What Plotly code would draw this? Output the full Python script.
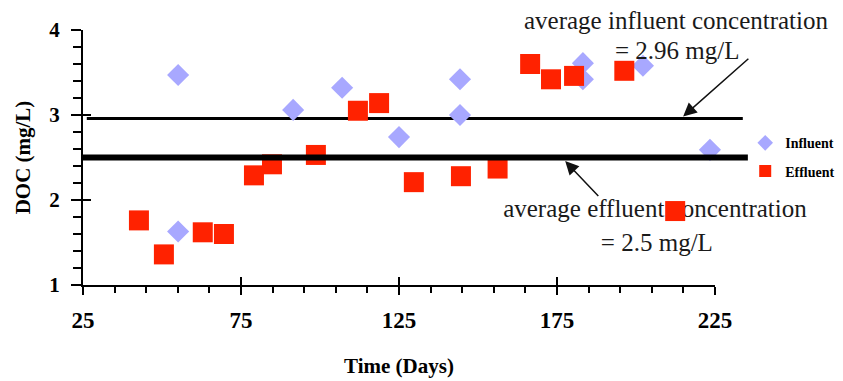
import plotly.graph_objects as go

# Dissolved organic carbon over time: influent vs effluent samples
influent_days = [55.1, 55.1, 91.5, 107.0, 125.0, 144.3, 144.3, 183.2, 183.2, 202.2, 223.4]
influent_doc = [3.47, 1.63, 3.06, 3.32, 2.74, 3.42, 3.00, 3.61, 3.42, 3.58, 2.59]

effluent_days = [42.7, 50.6, 62.9, 69.6, 79.1, 84.8, 98.7, 112.0, 118.7, 129.7,
                 144.6, 156.2, 166.5, 173.1, 180.4, 196.3, 212.4]
effluent_doc = [1.76, 1.36, 1.62, 1.60, 2.29, 2.42, 2.53, 3.05, 3.14, 2.21,
                2.28, 2.37, 3.60, 3.42, 3.46, 3.52, 1.87]

avg_influent = 2.96
avg_effluent = 2.5

x_ticks = [25, 75, 125, 175, 225]
y_ticks = [1, 2, 3, 4]

SERIF = "Liberation Serif, Times New Roman, serif"
label_font = dict(family=SERIF, size=25, color="#1a1a1a")

fig = go.Figure()

# Effluent callout text (drawn first so the data markers sit on top of it)
fig.add_trace(go.Scatter(
    x=[206.0, 206.6],
    y=[1.87, 1.47],
    mode="text",
    text=["average effluent concentration", f"= {avg_effluent:g} mg/L"],
    textposition="middle center",
    textfont=dict(family=SERIF, size=25, color="#1a1a1a"),
    cliponaxis=False,
    showlegend=False,
    hoverinfo="skip",
))

fig.add_trace(go.Scatter(
    x=influent_days, y=influent_doc, mode="markers", name="Influent",
    legendgroup="in",
    marker=dict(symbol="diamond", size=17, color="#a8a8ff", line=dict(width=0)),
    cliponaxis=False,
))
fig.add_trace(go.Scatter(
    x=effluent_days, y=effluent_doc, mode="markers", name="Effluent",
    legendgroup="ef",
    marker=dict(symbol="square", size=20, color="#ff2200", line=dict(width=0)),
    cliponaxis=False,
))

# Empty trace that carries the inner half of the crossing major ticks
fig.add_trace(go.Scatter(x=[], y=[], xaxis="x2", yaxis="y2",
                         showlegend=False, hoverinfo="skip"))

# Average lines
fig.add_shape(type="line", xref="paper", yref="y", x0=0.006, x1=1.044,
              y0=avg_influent, y1=avg_influent, layer="below",
              line=dict(color="black", width=3))
fig.add_shape(type="line", xref="paper", yref="y", x0=0.0, x1=1.052,
              y0=avg_effluent, y1=avg_effluent, layer="above",
              line=dict(color="black", width=6))

# Influent callout text
fig.add_annotation(x=212.7, y=1.039, xref="x", yref="paper", showarrow=False,
                   text="average influent concentration", font=label_font,
                   xanchor="center", yanchor="middle")
fig.add_annotation(x=213.0, y=0.918, xref="x", yref="paper", showarrow=False,
                   text=f"= {avg_influent:.2f} mg/L", font=label_font,
                   xanchor="center", yanchor="middle")

arrow = dict(text="", showarrow=True, arrowhead=2, arrowsize=1.8,
             arrowwidth=1.5, arrowcolor="#111", xref="x", yref="y")
fig.add_annotation(x=214.2, y=avg_influent, ax=69, ay=-61, standoff=3, **arrow)
fig.add_annotation(x=176.5, y=avg_effluent, ax=38, ay=40, standoff=5, **arrow)

axis_common = dict(showgrid=False, zeroline=False, showline=True,
                   linecolor="black", linewidth=2, tickcolor="black",
                   tickwidth=2, ticks="outside", automargin=False)

fig.update_layout(
    width=843, height=381,
    margin=dict(l=83, r=128, t=30, b=96),
    paper_bgcolor="white", plot_bgcolor="rgba(0,0,0,0)",
    font=dict(family=SERIF, color="black"),
    xaxis=dict(
        range=[25, 225], tickvals=x_ticks, ticklen=8,
        minor=dict(ticks="outside", ticklen=6, tickwidth=1.5, dtick=10,
                   tick0=25, tickcolor="black", showgrid=False),
        tickfont=dict(family=SERIF, size=23, weight="bold"),
        ticklabelstandoff=5,
        title=dict(text="Time (Days)", standoff=27,
                   font=dict(family=SERIF, size=21, weight="bold")),
        **axis_common,
    ),
    yaxis=dict(
        range=[1, 4], tickvals=y_ticks, ticklen=10,
        minor=dict(ticks="outside", ticklen=8, tickwidth=1.5, dtick=0.2,
                   tick0=1, tickcolor="black", showgrid=False),
        tickfont=dict(family=SERIF, size=21, weight="bold"),
        ticklabelstandoff=7,
        title=dict(text="DOC (mg/L)", standoff=13,
                   font=dict(family=SERIF, size=21, weight="bold")),
        **axis_common,
    ),
    xaxis2=dict(overlaying="x", anchor="y", range=[25, 225], tickvals=x_ticks,
                ticks="inside", ticklen=8, tickwidth=2, tickcolor="black",
                showticklabels=False, showline=False, showgrid=False,
                zeroline=False, automargin=False),
    yaxis2=dict(overlaying="y", anchor="x", range=[1, 4], tickvals=y_ticks,
                ticks="inside", ticklen=8, tickwidth=2, tickcolor="black",
                showticklabels=False, showline=False, showgrid=False,
                zeroline=False, side="left", automargin=False),
    legend=dict(xref="container", yref="container",
                x=0.884, xanchor="left", y=0.666, yanchor="top",
                bgcolor="rgba(0,0,0,0)", itemsizing="constant",
                tracegroupgap=7,
                font=dict(family=SERIF, size=14, weight="bold", color="black")),
    showlegend=True,
)

fig.write_html("out.html")
